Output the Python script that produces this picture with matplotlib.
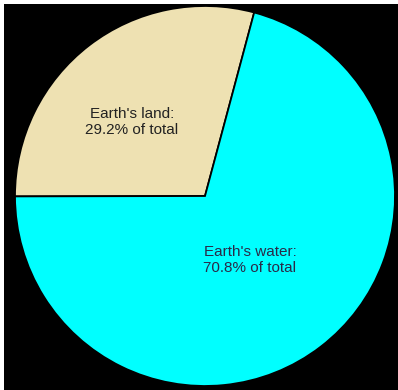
import matplotlib
matplotlib.use('Agg')
import matplotlib.pyplot as plt

# share of the earth's surface
names = ["Earth's land", "Earth's water"]
shares = [29.2, 70.8]
colors = ['#EEE1B2', '#00FFFF']
text_colors = ['#222222', '#2A2A48']

W, H = 398, 390
fig = plt.figure(figsize=(W / 100, H / 100), dpi=100, facecolor='white')
ax = fig.add_axes([4 / W, 0, 1 - 4 / W, 1 - 4 / H])
ax.set_facecolor('black')

cx, cy, r = 205, 194, 190
ax.pie(shares, colors=colors, startangle=75, counterclock=True,
       center=(cx, cy), radius=r, frame=True,
       wedgeprops=dict(edgecolor='black', linewidth=1.3))
ax.set_xlim(4, W)
ax.set_ylim(0, H - 4)
ax.set_aspect('equal')
ax.set_xticks([])
ax.set_yticks([])
for s in ax.spines.values():
    s.set_visible(False)

label_pos = [(132, 268), (250, 130)]
for name, val, (x, y), tc in zip(names, shares, label_pos, text_colors):
    ax.text(x, y, f"{name}:\n{val}% of total", ha='center', va='center',
            fontsize=11, family='Liberation Sans', color=tc, linespacing=1.25)

plt.savefig('out.png', dpi=100, facecolor='white')
